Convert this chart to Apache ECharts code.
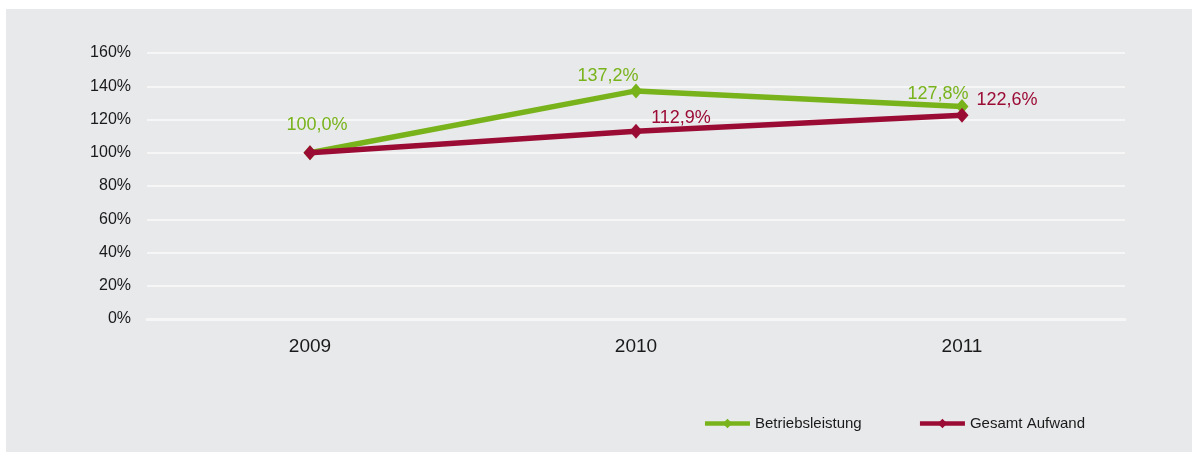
<!DOCTYPE html>
<html>
<head>
<meta charset="utf-8">
<script src="https://cdn.jsdelivr.net/npm/echarts@6/dist/echarts.min.js"></script>
<style>
  html, body { margin: 0; padding: 0; background: #ffffff; }
  #chart { width: 1192px; height: 452px; }
</style>
</head>
<body>
<div id="chart"></div>
<script>
// Jahre und Indexwerte (2009 = 100 %)
const years = ['2009', '2010', '2011'];
const betriebsleistung = [100.0, 137.2, 127.8];
const gesamtAufwand = [100.0, 112.9, 122.6];
const yTicks = { min: 0, max: 160, step: 20 };

const GREEN = '#78b31b';
const RED = '#9b0c35';
const FONT = '"Liberation Sans", Arial, sans-serif';

// Label offsets per point [dx, dy], null = no label
const greenOffsets = [[7, -28], [-28, -15], [-24, -13]];
const redOffsets = [null, [45, -13], [45, -15]];

function fmt(v) {
  return v.toFixed(1).replace('.', ',') + '%';
}

function buildData(values, offsets, color) {
  return values.map((v, i) => {
    const off = offsets[i];
    return {
      value: v,
      label: off ? {
        show: true,
        position: 'inside',
        offset: off,
        formatter: () => fmt(v),
        color: color,
        fontSize: 18,
        fontFamily: FONT
      } : { show: false }
    };
  });
}

const chart = echarts.init(document.getElementById('chart'), null, { renderer: 'canvas' });

chart.setOption({
  backgroundColor: '#ffffff',
  animation: false,
  graphic: [{
    type: 'rect',
    left: 6, top: 9,
    shape: { width: 1186, height: 443 },
    style: { fill: '#e8e9eb' },
    z: -10,
    silent: true
  }],
  textStyle: { fontFamily: FONT },
  grid: { left: 147, right: 67, top: 53, bottom: 133, containLabel: false },
  xAxis: {
    type: 'category',
    data: years,
    boundaryGap: true,
    axisLine: { show: true, lineStyle: { color: '#f6f6f6', width: 3 } },
    axisTick: { show: false },
    axisLabel: { color: '#1a1a1a', fontSize: 19, margin: 18, fontFamily: FONT },
    splitLine: { show: false }
  },
  yAxis: {
    type: 'value',
    min: yTicks.min,
    max: yTicks.max,
    interval: yTicks.step,
    axisLine: { show: false },
    axisTick: { show: false },
    axisLabel: { color: '#1a1a1a', fontSize: 16, margin: 16, formatter: '{value}%', fontFamily: FONT },
    splitLine: { show: true, lineStyle: { color: '#f6f6f6', width: 2 } }
  },
  legend: {
    right: 102,
    top: 411,
    itemWidth: 45,
    itemHeight: 12,
    itemGap: 56,
    lineStyle: { width: 4.5 },
    textStyle: { color: '#1a1a1a', fontSize: 15, fontFamily: FONT },
    data: ['Betriebsleistung', 'Gesamt Aufwand']
  },
  series: [
    {
      name: 'Betriebsleistung',
      type: 'line',
      data: buildData(betriebsleistung, greenOffsets, GREEN),
      symbol: 'diamond',
      symbolSize: [13, 15],
      lineStyle: { color: GREEN, width: 5.5 },
      itemStyle: { color: GREEN },
      z: 2
    },
    {
      name: 'Gesamt Aufwand',
      type: 'line',
      data: buildData(gesamtAufwand, redOffsets, RED),
      symbol: 'diamond',
      symbolSize: [13, 15],
      lineStyle: { color: RED, width: 5.5 },
      itemStyle: { color: RED },
      z: 3
    }
  ]
});
</script>
</body>
</html>
